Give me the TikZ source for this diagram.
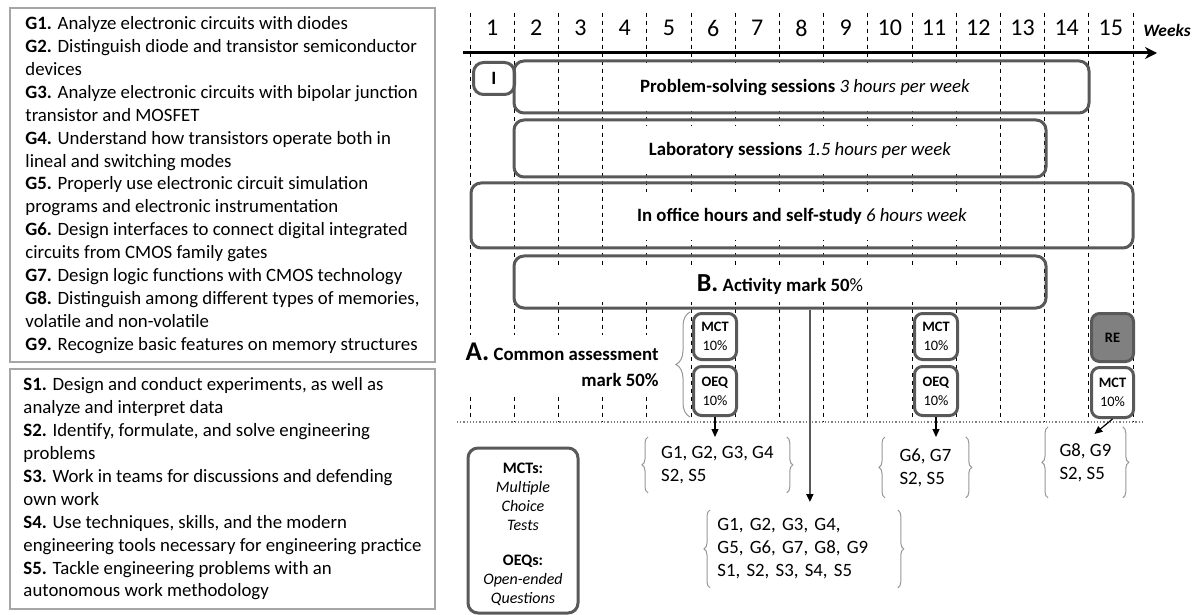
\documentclass[tikz,border=0pt]{standalone}
\usepackage{fontspec}
\setmainfont{Carlito}
\usetikzlibrary{positioning, arrows.meta, calc, fit, decorations.pathreplacing}

\definecolor{grisborde}{RGB}{89,89,89}
\definecolor{grisclaro}{RGB}{166,166,166}
\definecolor{grisllave}{RGB}{150,150,150}
\definecolor{grisre}{RGB}{128,128,128}
\newcommand{\letra}[2]{\fontsize{#1}{#2}\selectfont}

\begin{document}
\begin{tikzpicture}[
		% 1 px de la figura = 0.5pt
		x=0.5pt, y=-0.5pt,
		% Estilos de cajas
		caja_obj/.style={draw=grisclaro, line width=1pt, align=left, inner sep=0pt, anchor=north west, minimum width=212.5pt, font=\letra{9.4}{11.45}},
		barra/.style={draw=grisborde, line width=1.5pt, rounded corners=5pt, inner sep=0pt},
		texto_barra/.style={fill=white, inner xsep=5pt, inner ysep=8pt, font=\letra{9.4}{11.45}},
		caja_eval/.style={draw=grisborde, line width=1.5pt, rounded corners=4pt, fill=white, inner sep=0pt, align=center, anchor=north west, font=\letra{7.2}{9.5}},
		grupo/.style={align=left, inner sep=0pt, anchor=north west, font=\letra{9.4}{11.5}},
		% Estilo de lineas, llaves y flechas
		semana/.style={dash pattern=on 2pt off 2pt, line width=0.5pt},
		eje/.style={-{Stealth[length=6pt, width=6pt]}, line width=1.5pt},
		flecha/.style={-{Triangle[length=4pt, width=3.5pt]}, line width=0.6pt},
		flecha_larga/.style={-{Triangle[length=4pt, width=3.5pt, color=black]}, line width=0.9pt, draw=grisborde},
		llave/.style={draw=grisllave, line width=0.5pt, decorate, decoration={brace, amplitude=3pt}},
		llave_grande/.style={llave, decoration={brace, amplitude=7pt}}
		]
		\useasboundingbox (0,0) rectangle (1201,615);
		
		% --- OBJETIVOS Y COMPETENCIAS (IZQUIERDA) ---
		\node[caja_obj, minimum height=177pt] (metas) at (9,7) {\textbf{G1.} Analyze electronic circuits with diodes\\
			\textbf{G2.} Distinguish diode and transistor semiconductor\\
			devices\\
			\textbf{G3.} Analyze electronic circuits with bipolar junction\\
			transistor and MOSFET\\
			\textbf{G4.} Understand how transistors operate both in\\
			lineal and switching modes\\
			\textbf{G5.} Properly use electronic circuit simulation\\
			programs and electronic instrumentation\\
			\textbf{G6.} Design interfaces to connect digital integrated\\
			circuits from CMOS family gates\\
			\textbf{G7.} Design logic functions with CMOS technology\\
			\textbf{G8.} Distinguish among different types of memories,\\
			volatile and non-volatile\\
			\textbf{G9.} Recognize basic features on memory structures};
		\node[caja_obj, minimum height=120pt, below=2.5pt of metas.south west, anchor=north west] (competencias) {\textbf{S1.} Design and conduct experiments, as well as\\
			analyze and interpret data\\
			\textbf{S2.} Identify, formulate, and solve engineering\\
			problems\\
			\textbf{S3.} Work in teams for discussions and defending\\
			own work\\
			\textbf{S4.} Use techniques, skills, and the modern\\
			engineering tools necessary for engineering practice\\
			\textbf{S5.} Tackle engineering problems with an\\
			autonomous work methodology};
		
		% --- EJE DE SEMANAS ---
		\foreach \i in {0,...,15}
			\draw[semana] ({470+44.2*\i},13) -- ({470+44.2*\i},422);
		\foreach \i in {1,...,15}
			\node[font=\letra{12}{14}] (n\i) at ({447.9+44.2*\i},28) {\i};
		\node[font=\letra{8.7}{10}\bfseries\itshape] (semanas) at (1167,30) {Weeks};
		\coordinate (eje_ini) at (463,53);
		\coordinate (eje_fin) at (1157,53);
		\draw[eje] (eje_ini) -- (eje_fin);
		
		% --- BARRAS DE ACTIVIDADES ---
		% Textos primero (fondo blanco), luego los contornos encima
		\node[texto_barra] (problemas_txt) at (805,87) {\textbf{Problem-solving sessions} \textit{3 hours per week}};
		\node[texto_barra] (lab_txt) at (800,150) {\textbf{Laboratory sessions} \textit{1.5 hours per week}};
		\node[texto_barra] (tutorias_txt) at (802,216) {\textbf{In office hours and self-study} \textit{6 hours week}};
		\node[texto_barra, inner ysep=1pt, minimum width=245pt, minimum height=17pt] (actividad_txt) at (780,285) {{\letra{13}{14}\textbf{B.}} \textbf{Activity mark 50}\%};
		\node[barra, minimum width=20.5pt, minimum height=16pt, anchor=north west, font=\letra{9.4}{11}\bfseries] (intro) at (472,61) {I};
		\node[barra, fit={(514,61) (1089,113)}] (problemas) {};
		\node[barra, fit={(514,120) (1046,177)}] (lab) {};
		\node[barra, fit={(471,183) (1133,248)}] (tutorias) {};
		\node[barra, fit={(514,256) (1046,308)}] (actividad) {};
		
		% --- EVALUACION COMUN ---
		\node[caja_eval, minimum width=21.5pt, minimum height=23pt] (mct6) at (692,312) {\textbf{MCT}\\10\%};
		\node[caja_eval, minimum width=21.5pt, minimum height=24.5pt] (oeq6) at (692,365) {\textbf{OEQ}\\10\%};
		\node[caja_eval, minimum width=21.5pt, minimum height=23pt] (mct11) at (913,312) {\textbf{MCT}\\10\%};
		\node[caja_eval, minimum width=21.5pt, minimum height=24.5pt] (oeq11) at (913,365) {\textbf{OEQ}\\10\%};
		\node[caja_eval, fill=grisre, minimum width=21pt, minimum height=24pt] (re15) at (1090,312) {\textbf{RE}};
		\node[caja_eval, minimum width=21pt, minimum height=25pt] (mct15) at (1090,366) {\textbf{MCT}\\10\%};
		\draw[llave_grande] ([xshift=-1pt]oeq6.south west) -- ([xshift=-1pt]mct6.north west);
		\node[align=right, fill=white, inner sep=4pt, anchor=east, font=\letra{9.4}{13}] (comun) at (667,365) {{\letra{13.5}{13}\textbf{A.}} \textbf{Common assessment}\\\textbf{mark 50\%}};
		
		\coordinate (base_ini) at (457,422);
		\coordinate (base_fin) at (1142,422);
		\draw[densely dotted, gray, line width=0.6pt] (base_ini) -- (base_fin);
		
		% --- LEYENDA ---
		\node[barra, fit={(468,448) (578,613)}] (leyenda) {};
		\node[align=center, font=\letra{8}{9.5}] (leyenda_txt) at (523,534) {\textbf{MCTs:}\\\textit{Multiple}\\\textit{Choice}\\\textit{Tests}\\[8pt]\textbf{OEQs:}\\\textit{Open-ended}\\\textit{Questions}};
		
		% --- OBJETIVOS EVALUADOS ---
		\node[grupo, minimum width=69pt, minimum height=27.5pt] (g1) at (648,437) {G1, G2, G3, G4\\S2, S5};
		\node[grupo, minimum width=40pt, minimum height=30pt] (g2) at (885,437) {G6, G7\\S2, S5};
		\node[grupo, minimum width=37pt, minimum height=35pt] (g3) at (1048,427) {G8, G9\\S2, S5};
		\node[grupo, minimum height=38.5pt, text width=86.5pt, inner xsep=3.5pt] (g4) at (710,510) {G1, G2, G3, G4,\\G5, G6, G7, G8, G9\\S1, S2, S3, S4, S5};
		\foreach \g in {g1,g2,g3,g4} {
			\draw[llave] (\g.south west) -- (\g.north west);
			\draw[llave] (\g.north east) -- (\g.south east);
		}
		
		% Flechas hacia los objetivos
		\draw[flecha] (oeq6.south) -- (oeq6.south |- g1.north);
		\draw[flecha] (oeq11.south) -- (oeq11.south |- g2.north);
		\draw[flecha] (mct15.south) -- ([xshift=4.5pt,yshift=-3.5pt]g3.north);
		\coordinate (fin_act) at ([xshift=3pt,yshift=4pt]g4.north);
		\draw[flecha_larga] (actividad.south -| fin_act) -- (fin_act);
		
	\end{tikzpicture}
\end{document}
